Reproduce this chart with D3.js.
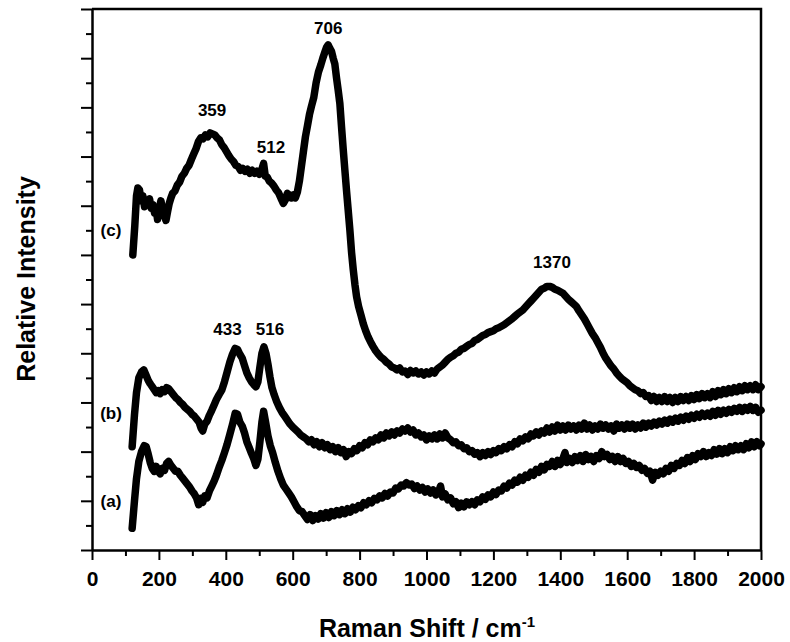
<!DOCTYPE html>
<html>
<head>
<meta charset="utf-8">
<script src="https://cdn.jsdelivr.net/npm/d3@7"></script>
<style>
  body { margin: 0; background: #fff; }
  text { font-family: "Liberation Sans", Arial, sans-serif; font-weight: bold; fill: #000; }
</style>
</head>
<body>
<svg width="790" height="642"></svg>
<script>
// spectra: [Raman shift (cm-1), relative intensity (offset units)]
const spectrumA = [
  [120,0.44],[127,1.0],[133,1.45],[140,1.8],[148,2.0],[156,2.12],[162,2.1],[168,1.95],[174,1.78],[180,1.66],[186,1.6],
  [192,1.7],[198,1.6],[204,1.55],[210,1.66],[217,1.62],[223,1.76],[229,1.8],[236,1.72],[243,1.66],[250,1.6],[257,1.6],
  [264,1.52],[271,1.46],[278,1.4],[285,1.34],[292,1.28],[299,1.2],[306,1.14],[313,1.05],[319,0.92],[325,1.05],[331,0.97],
  [337,1.1],[344,1.06],[351,1.2],[358,1.3],[365,1.4],[372,1.52],[380,1.68],[388,1.82],[396,1.98],[404,2.15],[412,2.35],
  [420,2.55],[428,2.78],[435,2.76],[442,2.6],[449,2.52],[456,2.38],[463,2.2],[470,2.08],[477,1.96],[484,1.85],[490,1.72],
  [496,1.85],[502,2.2],[508,2.6],[513,2.82],[519,2.6],[526,2.32],[533,2.12],[540,1.98],[548,1.78],[556,1.6],[564,1.45],
  [572,1.32],[580,1.24],[588,1.16],[596,1.08],[604,0.98],[612,0.88],[620,0.8],[628,0.78],[636,0.7],[644,0.62],[652,0.72],
  [660,0.6],[668,0.7],[676,0.63],[684,0.74],[692,0.65],[700,0.76],[708,0.66],[716,0.78],[724,0.7],[732,0.8],[740,0.72],
  [748,0.82],[756,0.74],[764,0.84],[772,0.77],[780,0.87],[788,0.82],[796,0.9],[804,0.86],[812,0.96],[820,0.92],[828,1.0],
  [836,0.96],[844,1.05],[852,1.02],[860,1.1],[868,1.06],[876,1.15],[884,1.1],[892,1.18],[900,1.16],[908,1.26],[916,1.24],
  [924,1.32],[932,1.3],[940,1.37],[948,1.32],[956,1.34],[964,1.25],[972,1.3],[980,1.22],[988,1.27],[996,1.18],[1004,1.24],
  [1012,1.16],[1020,1.22],[1028,1.12],[1036,1.18],[1042,1.3],[1048,1.08],[1056,1.14],[1064,1.02],[1072,1.06],[1080,0.94],
  [1088,0.98],[1096,0.86],[1104,0.95],[1112,0.88],[1120,0.98],[1128,0.92],[1136,0.98],[1144,0.92],[1152,1.02],[1160,0.98],
  [1168,1.08],[1176,1.03],[1184,1.12],[1192,1.08],[1200,1.18],[1208,1.13],[1216,1.22],[1224,1.2],[1232,1.3],[1240,1.26],
  [1248,1.36],[1256,1.32],[1264,1.42],[1272,1.38],[1280,1.48],[1288,1.42],[1296,1.52],[1304,1.48],[1312,1.58],[1320,1.52],
  [1328,1.64],[1336,1.58],[1344,1.7],[1352,1.63],[1360,1.74],[1368,1.7],[1376,1.8],[1384,1.7],[1392,1.82],[1400,1.74],
  [1408,1.86],[1414,1.98],[1420,1.78],[1428,1.86],[1436,1.78],[1444,1.9],[1452,1.82],[1460,1.92],[1468,1.8],[1476,1.94],
  [1484,1.84],[1492,1.9],[1500,1.8],[1508,1.92],[1516,1.86],[1524,2.0],[1532,1.9],[1540,1.94],[1548,1.84],[1556,1.9],
  [1564,1.8],[1572,1.9],[1580,1.8],[1588,1.86],[1596,1.76],[1604,1.8],[1612,1.7],[1620,1.76],[1628,1.68],[1636,1.72],
  [1644,1.62],[1652,1.66],[1660,1.56],[1668,1.6],[1676,1.42],[1684,1.58],[1692,1.52],[1700,1.6],[1708,1.55],[1716,1.66],
  [1724,1.6],[1732,1.72],[1740,1.66],[1748,1.76],[1756,1.72],[1764,1.82],[1772,1.76],[1780,1.88],[1788,1.8],[1796,1.92],
  [1804,1.84],[1812,1.96],[1820,1.9],[1828,2.0],[1836,1.9],[1844,1.98],[1852,1.92],[1860,2.04],[1868,1.95],[1876,2.06],
  [1884,1.96],[1892,2.06],[1900,1.98],[1908,2.1],[1916,2.02],[1924,2.12],[1932,2.04],[1940,2.12],[1948,2.04],[1956,2.16],
  [1964,2.08],[1972,2.2],[1980,2.1],[1988,2.2],[1996,2.12],[2000,2.16]
];

const spectrumB = [
  [120,2.1],[127,2.75],[133,3.2],[140,3.5],[148,3.62],[155,3.66],[162,3.55],[168,3.45],[174,3.38],[180,3.32],[186,3.26],
  [192,3.2],[198,3.24],[204,3.18],[210,3.26],[217,3.22],[223,3.3],[229,3.28],[236,3.22],[243,3.16],[250,3.1],[257,3.06],
  [264,3.0],[271,2.96],[278,2.9],[285,2.86],[292,2.82],[299,2.76],[306,2.72],[313,2.66],[320,2.6],[326,2.48],[331,2.42],
  [337,2.56],[344,2.62],[351,2.74],[358,2.84],[365,2.95],[372,3.06],[380,3.16],[388,3.25],[396,3.42],[404,3.62],[412,3.82],
  [420,3.98],[428,4.1],[435,4.08],[442,3.98],[449,3.9],[456,3.75],[463,3.6],[470,3.5],[477,3.42],[484,3.36],[490,3.32],
  [496,3.42],[502,3.72],[508,4.0],[514,4.13],[520,4.0],[526,3.78],[532,3.52],[538,3.3],[545,3.15],[552,3.02],[560,2.9],
  [568,2.8],[576,2.72],[584,2.64],[592,2.56],[600,2.5],[608,2.45],[616,2.4],[624,2.34],[632,2.3],[640,2.26],[648,2.2],
  [656,2.24],[664,2.14],[672,2.2],[680,2.1],[688,2.18],[696,2.08],[704,2.14],[712,2.04],[720,2.1],[728,2.0],[736,2.08],
  [744,1.98],[752,2.04],[760,1.9],[768,2.0],[776,1.96],[784,2.06],[792,2.02],[800,2.12],[808,2.08],[816,2.18],[824,2.14],
  [832,2.24],[840,2.2],[848,2.28],[856,2.24],[864,2.34],[872,2.28],[880,2.38],[888,2.32],[896,2.4],[904,2.34],[912,2.42],
  [920,2.38],[928,2.46],[936,2.42],[944,2.48],[952,2.4],[960,2.44],[968,2.34],[976,2.38],[984,2.3],[992,2.34],[1000,2.24],
  [1008,2.32],[1016,2.26],[1024,2.34],[1032,2.26],[1040,2.36],[1048,2.28],[1056,2.38],[1064,2.28],[1072,2.24],[1080,2.18],
  [1088,2.2],[1096,2.12],[1104,2.14],[1112,2.06],[1120,2.08],[1128,2.0],[1136,2.02],[1144,1.95],[1152,1.98],[1160,1.9],
  [1168,1.98],[1176,1.92],[1184,2.0],[1192,1.94],[1200,2.02],[1208,1.98],[1216,2.06],[1224,2.02],[1232,2.1],[1240,2.06],
  [1248,2.14],[1256,2.1],[1264,2.2],[1272,2.16],[1280,2.26],[1288,2.22],[1296,2.3],[1304,2.26],[1312,2.36],[1320,2.32],
  [1328,2.4],[1336,2.34],[1344,2.42],[1352,2.38],[1360,2.48],[1368,2.4],[1376,2.5],[1384,2.42],[1392,2.54],[1400,2.44],
  [1408,2.52],[1416,2.44],[1424,2.54],[1432,2.46],[1440,2.52],[1448,2.44],[1456,2.54],[1464,2.46],[1472,2.58],[1480,2.46],
  [1488,2.54],[1496,2.44],[1504,2.52],[1512,2.46],[1520,2.56],[1528,2.48],[1536,2.54],[1544,2.46],[1552,2.52],[1560,2.42],
  [1568,2.56],[1576,2.48],[1584,2.54],[1592,2.46],[1600,2.56],[1608,2.48],[1616,2.56],[1624,2.46],[1632,2.54],[1640,2.48],
  [1648,2.58],[1656,2.5],[1664,2.58],[1672,2.52],[1680,2.6],[1688,2.54],[1696,2.62],[1704,2.56],[1712,2.64],[1720,2.58],
  [1728,2.66],[1736,2.6],[1744,2.68],[1752,2.62],[1760,2.7],[1768,2.64],[1776,2.72],[1784,2.66],[1792,2.74],[1800,2.68],
  [1808,2.76],[1816,2.7],[1824,2.78],[1832,2.72],[1840,2.78],[1848,2.72],[1856,2.82],[1864,2.74],[1872,2.84],[1880,2.76],
  [1888,2.84],[1896,2.78],[1904,2.86],[1912,2.8],[1920,2.88],[1928,2.82],[1936,2.9],[1944,2.82],[1952,2.9],[1960,2.84],
  [1968,2.92],[1976,2.84],[1984,2.9],[1992,2.8],[2000,2.84]
];

const spectrumC = [
  [122,6.0],[128,6.6],[133,7.2],[137,7.36],[142,7.32],[147,7.1],[152,7.2],[157,6.98],[162,7.12],[167,7.04],[172,7.14],
  [177,6.95],[182,7.02],[187,6.85],[192,6.92],[196,6.72],[201,6.95],[206,7.1],[211,6.92],[216,6.82],[221,6.7],[226,6.88],
  [231,7.05],[236,7.16],[241,7.25],[248,7.3],[255,7.42],[262,7.48],[269,7.6],[276,7.66],[283,7.76],[290,7.82],[297,7.94],
  [304,8.05],[311,8.16],[318,8.3],[325,8.38],[332,8.36],[339,8.44],[346,8.4],[353,8.48],[360,8.46],[367,8.44],[374,8.38],
  [381,8.34],[388,8.24],[395,8.18],[402,8.1],[409,8.02],[416,7.95],[423,7.9],[430,7.82],[437,7.8],[444,7.72],[451,7.76],
  [458,7.7],[465,7.74],[472,7.66],[479,7.72],[486,7.66],[493,7.7],[500,7.64],[507,7.72],[513,7.86],[518,7.6],[524,7.58],
  [530,7.5],[537,7.46],[544,7.4],[551,7.32],[558,7.26],[565,7.15],[572,7.05],[578,7.12],[584,7.25],[590,7.22],[596,7.16],
  [602,7.22],[608,7.16],[614,7.28],[620,7.5],[626,7.8],[632,8.1],[638,8.4],[644,8.62],[650,8.85],[656,9.02],[663,9.2],
  [670,9.5],[677,9.72],[684,9.86],[690,10.0],[696,10.12],[701,10.22],[706,10.27],[711,10.2],[716,10.14],[721,10.0],
  [726,9.88],[731,9.6],[736,9.35],[741,9.08],[746,8.6],[751,8.15],[756,7.72],[761,7.3],[766,6.9],[771,6.5],[776,6.05],
  [781,5.7],[786,5.4],[791,5.15],[797,4.95],[804,4.78],[811,4.6],[818,4.46],[825,4.34],[832,4.24],[840,4.14],[848,4.05],
  [856,3.98],[864,3.92],[872,3.88],[880,3.82],[888,3.78],[896,3.72],[904,3.7],[912,3.66],[920,3.7],[928,3.62],[936,3.64],
  [944,3.57],[952,3.65],[960,3.6],[968,3.64],[976,3.58],[984,3.62],[992,3.56],[1000,3.62],[1008,3.58],[1016,3.64],
  [1024,3.6],[1032,3.68],[1040,3.72],[1048,3.76],[1056,3.82],[1064,3.88],[1072,3.92],[1080,3.95],[1088,4.0],[1096,4.02],
  [1104,4.08],[1112,4.1],[1120,4.14],[1128,4.18],[1136,4.2],[1144,4.26],[1152,4.28],[1160,4.32],[1168,4.36],[1176,4.38],
  [1184,4.42],[1192,4.44],[1200,4.46],[1208,4.5],[1216,4.52],[1224,4.55],[1232,4.58],[1240,4.62],[1248,4.66],[1256,4.7],
  [1264,4.75],[1272,4.8],[1280,4.84],[1288,4.88],[1296,4.94],[1304,5.0],[1312,5.06],[1320,5.12],[1328,5.18],[1336,5.24],
  [1344,5.3],[1352,5.32],[1360,5.36],[1368,5.36],[1376,5.34],[1384,5.3],[1392,5.28],[1400,5.25],[1408,5.22],[1416,5.16],
  [1424,5.1],[1432,5.05],[1440,5.0],[1448,4.95],[1456,4.86],[1464,4.78],[1472,4.7],[1480,4.6],[1488,4.5],[1496,4.4],
  [1504,4.32],[1512,4.22],[1520,4.12],[1528,4.0],[1536,3.9],[1544,3.82],[1552,3.74],[1560,3.68],[1568,3.6],[1576,3.54],
  [1584,3.48],[1592,3.44],[1600,3.4],[1608,3.34],[1616,3.3],[1624,3.26],[1632,3.24],[1640,3.18],[1648,3.2],[1656,3.12],
  [1664,3.14],[1672,3.04],[1680,3.12],[1688,3.02],[1696,3.1],[1704,3.02],[1712,3.12],[1720,3.02],[1728,3.1],[1736,3.0],
  [1744,3.1],[1752,3.02],[1760,3.12],[1768,3.04],[1776,3.12],[1784,3.04],[1792,3.14],[1800,3.06],[1808,3.16],[1816,3.08],
  [1824,3.18],[1832,3.1],[1840,3.18],[1848,3.1],[1856,3.22],[1864,3.12],[1872,3.24],[1880,3.16],[1888,3.26],[1896,3.18],
  [1904,3.28],[1912,3.2],[1920,3.3],[1928,3.22],[1936,3.32],[1944,3.24],[1952,3.34],[1960,3.26],[1968,3.34],[1976,3.26],
  [1984,3.36],[1992,3.26],[2000,3.32]
];

const xTicks = [0, 200, 400, 600, 800, 1000, 1200, 1400, 1600, 1800, 2000];
const peakLabels = [
  { text: '359', x: 359, y: 8.95 },
  { text: '512', x: 535, y: 8.2 },
  { text: '706', x: 706, y: 10.62 },
  { text: '433', x: 405, y: 4.5 },
  { text: '516', x: 532, y: 4.5 },
  { text: '1370', x: 1375, y: 5.85 }
];
const traceLabels = [
  { text: '(c)', y: 6.5 },
  { text: '(b)', y: 2.78 },
  { text: '(a)', y: 1.0 }
];

const svg = d3.select('svg');
const x = d3.scaleLinear().domain([0, 2000]).range([92, 761]);
const y = d3.scaleLinear().domain([0, 11]).range([550, 9]);

// minor ticks first, majors on top
svg.append('g')
  .attr('transform', 'translate(0,550)')
  .call(d3.axisBottom(x).tickValues(d3.range(100, 2000, 200)).tickSize(6).tickFormat(''))
  .call(g => g.select('.domain').remove());
svg.append('g')
  .attr('class', 'xaxis')
  .attr('transform', 'translate(0,550)')
  .call(d3.axisBottom(x).tickValues(xTicks).tickSize(10).tickPadding(11).tickSizeOuter(0).tickFormat(d3.format('d')));
svg.append('g')
  .attr('transform', 'translate(92,0)')
  .call(d3.axisLeft(y).tickValues(d3.range(0.5, 11, 1)).tickSize(6).tickFormat(''))
  .call(g => g.select('.domain').remove());
svg.append('g')
  .attr('transform', 'translate(92,0)')
  .call(d3.axisLeft(y).tickValues(d3.range(0, 12, 1)).tickSize(11).tickFormat('').tickSizeOuter(0));

svg.selectAll('.tick line').attr('stroke', '#000').attr('stroke-width', 2);
svg.selectAll('.domain').attr('stroke', '#000').attr('stroke-width', 2.5);
svg.selectAll('.xaxis text').style('font-size', '21px').style('font-weight', 'bold')
  .style('font-family', '"Liberation Sans", Arial, sans-serif');

// top and right frame
svg.append('path')
  .attr('d', `M${x(0)},${y(11)}H${x(2000)}V${y(0)}`)
  .attr('fill', 'none')
  .attr('stroke', '#000')
  .attr('stroke-width', 2.5);

const line = d3.line()
  .x(d => x(d[0]))
  .y(d => y(d[1]));

svg.append('g')
  .selectAll('path')
  .data([spectrumA, spectrumB, spectrumC])
  .enter()
  .append('path')
  .attr('d', line)
  .attr('fill', 'none')
  .attr('stroke', '#000')
  .attr('stroke-width', 7.5)
  .attr('stroke-linejoin', 'round')
  .attr('stroke-linecap', 'round');

svg.append('g')
  .selectAll('text')
  .data(peakLabels)
  .enter()
  .append('text')
  .attr('x', d => x(d.x))
  .attr('y', d => y(d.y))
  .attr('text-anchor', 'middle')
  .attr('dy', '0.35em')
  .style('font-size', '17px')
  .text(d => d.text);

svg.append('g')
  .selectAll('text')
  .data(traceLabels)
  .enter()
  .append('text')
  .attr('x', 111)
  .attr('y', d => y(d.y))
  .attr('text-anchor', 'middle')
  .attr('dy', '0.35em')
  .style('font-size', '17px')
  .text(d => d.text);

// axis titles
const xt = svg.append('text')
  .attr('x', 427)
  .attr('y', 637)
  .attr('text-anchor', 'middle')
  .style('font-size', '25px');
xt.append('tspan').text('Raman Shift / cm');
xt.append('tspan').attr('dy', -10).style('font-size', '15px').text('-1');

svg.append('text')
  .attr('transform', 'translate(35,279) rotate(-90)')
  .attr('text-anchor', 'middle')
  .style('font-size', '25px')
  .text('Relative Intensity');
</script>
</body>
</html>
